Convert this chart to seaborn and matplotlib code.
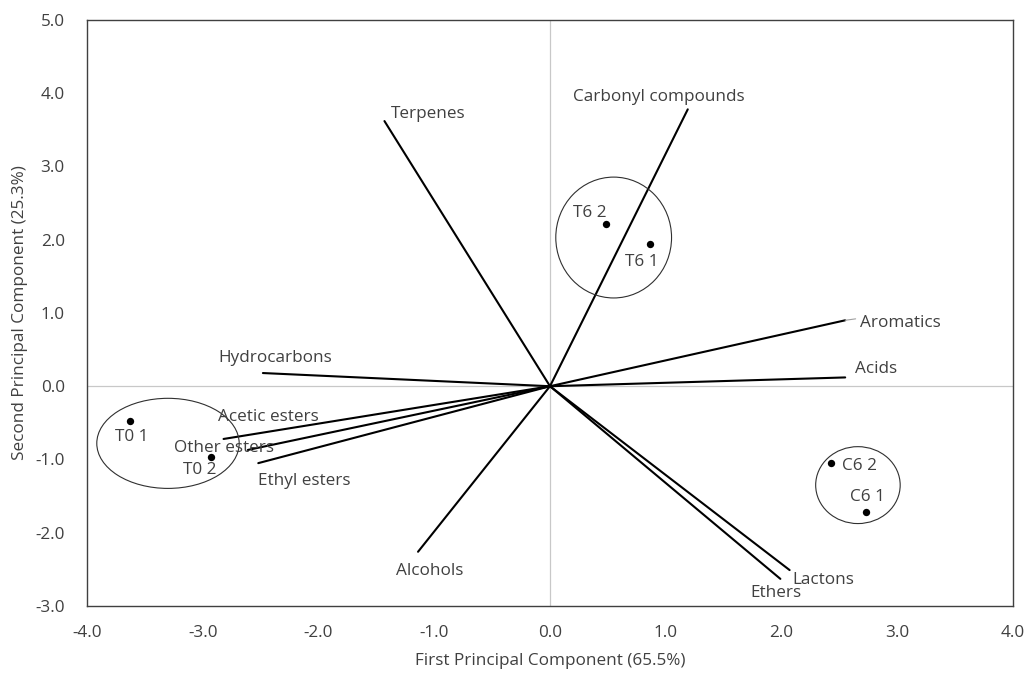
import matplotlib
matplotlib.use("Agg")
import matplotlib.pyplot as plt
from matplotlib.patches import Ellipse
import seaborn as sns
import pandas as pd

# Loadings (vectors)
var_names = ["Terpenes", "Carbonyl compounds", "Aromatics", "Acids", "Hydrocarbons",
             "Acetic esters", "Other esters", "Ethyl esters", "Alcohols", "Lactons", "Ethers"]
var_pc1 = [-1.43, 1.19, 2.55, 2.55, -2.48, -2.82, -2.61, -2.52, -1.14, 2.07, 1.99]
var_pc2 = [3.62, 3.78, 0.90, 0.12, 0.18, -0.72, -0.87, -1.05, -2.26, -2.51, -2.63]

# Scores (samples)
sample_names = ["T0 1", "T0 2", "T6 2", "T6 1", "C6 2", "C6 1"]
sample_pc1 = [-3.63, -2.93, 0.48, 0.86, 2.43, 2.73]
sample_pc2 = [-0.47, -0.96, 2.22, 1.94, -1.05, -1.72]

# Group ellipses: centre x, centre y, width, height
group_cx = [-3.30, 0.55, 2.66]
group_cy = [-0.78, 2.03, -1.35]
group_w = [1.23, 1.00, 0.73]
group_h = [1.23, 1.65, 1.05]

x_ticks = [-4, -3, -2, -1, 0, 1, 2, 3, 4]
y_ticks = [-3, -2, -1, 0, 1, 2, 3, 4, 5]

sns.set_style("white")
plt.rcParams["font.family"] = ["Open Sans", "DejaVu Sans"]
txt = "#404040"

fig = plt.figure(figsize=(10.29, 6.73), dpi=100)
ax = fig.add_axes([0.0845, 0.0996, 0.9000, 0.8707])

ax.axhline(0, color="#c8c8c8", lw=0.9, zorder=0)
ax.axvline(0, color="#c8c8c8", lw=0.9, zorder=0)

for x, y in zip(var_pc1, var_pc2):
    ax.plot([0, x], [0, y], color="black", lw=1.5, zorder=2)

# leader for Aromatics
ax.plot([2.55, 2.64], [0.90, 0.92], color="#a0a0a0", lw=0.8)

for cx, cy, w, h in zip(group_cx, group_cy, group_w, group_h):
    ax.add_patch(Ellipse((cx, cy), w, h, fill=False, ec="#303030", lw=0.8, zorder=2))

df = pd.DataFrame({"PC1": sample_pc1, "PC2": sample_pc2, "name": sample_names})
sns.scatterplot(data=df, x="PC1", y="PC2", ax=ax, color="black", s=28, edgecolor="black",
                linewidth=0, zorder=3, legend=False)

fs = 12.3
var_lab = {
    "Terpenes": (-1.05, 3.72),
    "Carbonyl compounds": (0.94, 3.95),
    "Aromatics": (3.03, 0.86),
    "Acids": (2.82, 0.24),
    "Hydrocarbons": (-2.37, 0.38),
    "Acetic esters": (-2.43, -0.42),
    "Other esters": (-2.82, -0.84),
    "Ethyl esters": (-2.12, -1.30),
    "Alcohols": (-1.04, -2.52),
    "Lactons": (2.36, -2.64),
    "Ethers": (1.95, -2.82),
}
for name in var_names:
    x, y = var_lab[name]
    ax.text(x, y, name, fontsize=fs, color=txt, ha="center", va="center", zorder=4)

samp_lab = {
    "T0 1": (-3.61, -0.70),
    "T0 2": (-3.03, -1.14),
    "T6 2": (0.34, 2.37),
    "T6 1": (0.79, 1.69),
    "C6 2": (2.67, -1.09),
    "C6 1": (2.74, -1.51),
}
for n in sample_names:
    x, y = samp_lab[n]
    ax.text(x, y, n, fontsize=fs, color=txt, ha="center", va="center", zorder=4)

ax.set_xlim(-4, 4)
ax.set_ylim(-3, 5)
ax.set_xticks(x_ticks)
ax.set_yticks(y_ticks)
ax.set_xticklabels([f"{v:.1f}" for v in x_ticks], fontsize=fs, color=txt)
ax.set_yticklabels([f"{v:.1f}" for v in y_ticks], fontsize=fs, color=txt)
ax.tick_params(axis="x", length=0, pad=14)
ax.tick_params(axis="y", length=0, pad=16)
ax.set_xlabel("First Principal Component (65.5%)", fontsize=fs, color=txt, labelpad=8)
ax.set_ylabel("Second Principal Component (25.3%)", fontsize=fs, color=txt, labelpad=5)
for s in ax.spines.values():
    s.set_color("#404040")
    s.set_linewidth(1.0)

fig.savefig("out.png", dpi=100)
